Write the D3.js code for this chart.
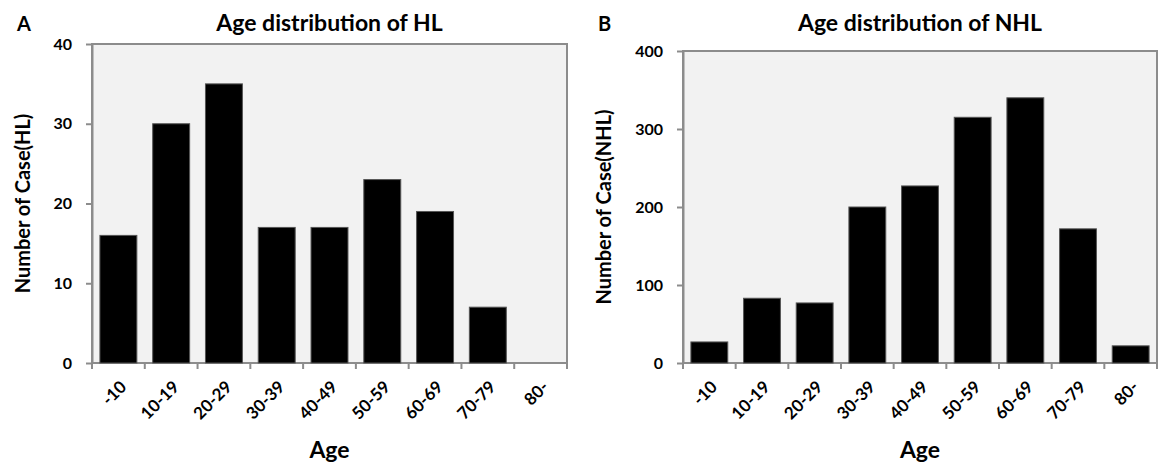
<!DOCTYPE html>
<html>
<head>
<meta charset="utf-8">
<script src="https://cdn.jsdelivr.net/npm/d3@7"></script>
<style>
  body { margin: 0; background: #fff; }
  text { font-family: Lato, "Open Sans", sans-serif; font-weight: bold; fill: #000; }
</style>
</head>
<body>
<script>
// age groups shared by both panels
var ageGroups = ["-10", "10-19", "20-29", "30-39", "40-49", "50-59", "60-69", "70-79", "80-"]

// HL panel
var hlCases = [16, 30, 35, 17, 17, 23, 19, 7, 0]
var hlTicks = [0, 10, 20, 30, 40]

// NHL panel
var nhlCases = [27, 83, 77, 200, 227, 315, 340, 172, 22]
var nhlTicks = [0, 100, 200, 300, 400]

var svg = d3.select("body").append("svg")
  .attr("width", 1160)
  .attr("height", 466)

drawPanel(svg, {
  letter: "A", letterX: 17,
  title: "Age distribution of HL",
  yLabel: "Number of Case(HL)", yLabelX: 22,
  values: hlCases, ticks: hlTicks,
  left: 92, right: 567, top: 44, bottom: 363
})

drawPanel(svg, {
  letter: "B", letterX: 598,
  title: "Age distribution of NHL",
  yLabel: "Number of Case(NHL)", yLabelX: 603,
  values: nhlCases, ticks: nhlTicks,
  left: 683, right: 1157, top: 51, bottom: 363
})

function drawPanel(svg, p) {
  var g = svg.append("g")

  var x = d3.scaleBand()
    .domain(ageGroups)
    .range([p.left, p.right])
    .paddingInner(0.3)
    .paddingOuter(0.15)

  var y = d3.scaleLinear()
    .domain([p.ticks[0], p.ticks[p.ticks.length - 1]])
    .range([p.bottom, p.top])

  // plot area
  g.append("rect")
    .attr("x", p.left).attr("y", p.top)
    .attr("width", p.right - p.left).attr("height", p.bottom - p.top)
    .attr("fill", "#f2f2f2")
    .attr("stroke", "#8c8c8c")
    .attr("stroke-width", 2)

  // bars
  g.selectAll(".bar")
    .data(p.values)
    .enter().append("rect")
    .attr("class", "bar")
    .attr("x", function(d, i) { return x(ageGroups[i]) })
    .attr("y", function(d) { return y(d) })
    .attr("width", x.bandwidth())
    .attr("height", function(d) { return p.bottom - y(d) })
    .attr("fill", "#000")
    .attr("stroke", function(d) { return d > 0 ? "#555" : "none" })
    .attr("stroke-width", 1)

  // y axis
  var yAxis = g.append("g")
    .attr("transform", "translate(" + p.left + ",0)")
    .call(d3.axisLeft(y).tickValues(p.ticks).tickSize(6).tickSizeOuter(0).tickPadding(14))
  yAxis.select(".domain").attr("stroke", "#8c8c8c").attr("stroke-width", 2)
  yAxis.selectAll(".tick line").attr("stroke", "#8c8c8c").attr("stroke-width", 2)
  yAxis.selectAll(".tick text")
    .style("font-size", "16px")
    .style("font-family", "Lato, 'Open Sans', sans-serif")
    .style("font-weight", "bold")
    .attr("fill", "#000")

  // x axis: ticks at the band boundaries
  var step = x.step()
  var edges = d3.range(ageGroups.length + 1)
  g.selectAll(".xtick")
    .data(edges)
    .enter().append("line")
    .attr("x1", function(i) { return p.left + i * step })
    .attr("x2", function(i) { return p.left + i * step })
    .attr("y1", p.bottom)
    .attr("y2", p.bottom + 6)
    .attr("stroke", "#8c8c8c")
    .attr("stroke-width", 2)

  var xAxis = g.append("g")
    .attr("transform", "translate(0," + p.bottom + ")")
    .call(d3.axisBottom(x).tickSize(0).tickPadding(0))
  xAxis.select(".domain").remove()
  xAxis.selectAll(".tick text")
    .attr("text-anchor", "end")
    .attr("dy", 0)
    .attr("y", 0)
    .attr("transform", "translate(9,25) rotate(-45)")
    .style("font-size", "17px")
    .style("font-family", "Lato, 'Open Sans', sans-serif")
    .style("font-weight", "bold")
    .attr("fill", "#000")

  var cx = (p.left + p.right) / 2

  // titles
  g.append("text")
    .attr("x", cx).attr("y", 31)
    .attr("text-anchor", "middle")
    .style("font-size", "23px")
    .text(p.title)

  g.append("text")
    .attr("x", p.letterX).attr("y", 31)
    .style("font-size", "20px")
    .text(p.letter)

  g.append("text")
    .attr("x", cx).attr("y", 458)
    .attr("text-anchor", "middle")
    .style("font-size", "23px")
    .text("Age")

  g.append("text")
    .attr("transform", "translate(" + (p.yLabelX + 8) + "," + ((p.top + p.bottom) / 2) + ") rotate(-90)")
    .attr("text-anchor", "middle")
    .style("font-size", "20px")
    .text(p.yLabel)
}
</script>
</body>
</html>
